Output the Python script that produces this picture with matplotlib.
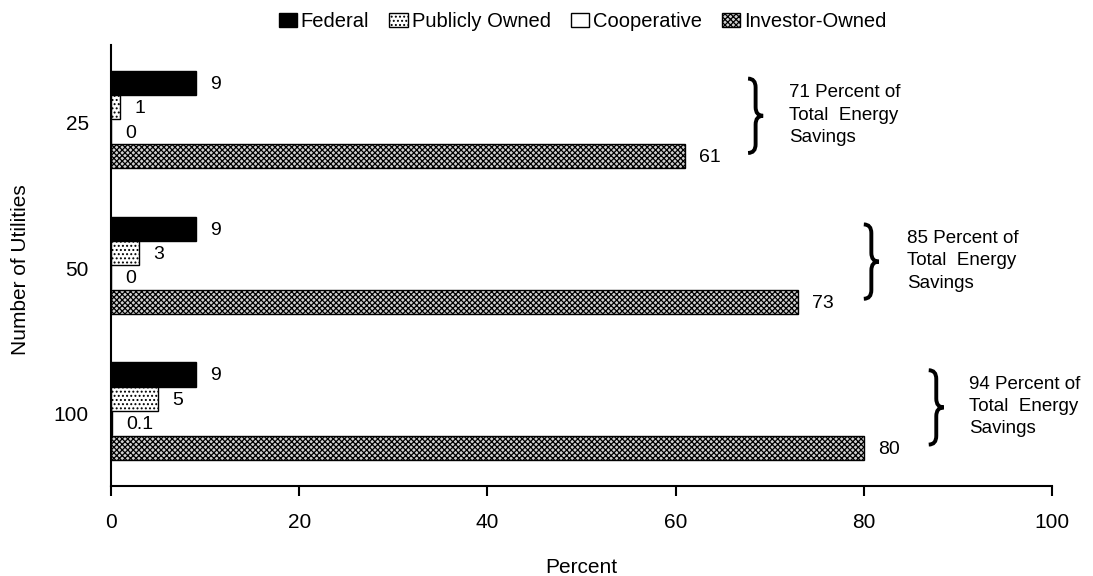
import numpy as np
import matplotlib
matplotlib.use("Agg")
import matplotlib.pyplot as plt
from matplotlib.path import Path
from matplotlib.patches import PathPatch

plt.rcParams['font.family'] = ['Liberation Sans', 'DejaVu Sans']
plt.rcParams['hatch.linewidth'] = 0.9

# donnees
groupes = ["25", "50", "100"]
series = ["Federal", "Publicly Owned", "Cooperative", "Investor-Owned"]
federal = [9, 9, 9]
public = [1, 3, 5]
coop = [0, 0, 0.1]
investor = [61, 73, 80]
etiquettes = [["9", "1", "0", "61"], ["9", "3", "0", "73"], ["9", "5", "0.1", "80"]]
totaux = [71, 85, 94]

# mise en page des accolades (x en %)
x_accolade = [67.7, 80.0, 86.9]
x_texte = [72.1, 84.6, 91.2]

valeurs = [federal, public, coop, investor]
couleurs = ["black", "white", "white", "#d0d0d0"]
hachures = [None, "....", None, "xxxxxx"]

fig = plt.figure(figsize=(10.93, 5.76), dpi=100)
ax = fig.add_axes([0.1016, 0.156, 0.8609, 0.766])

y = np.arange(len(groupes))
h = 0.165
for k in range(4):
    pos = y + (k - 1.5) * 0.167
    ax.barh(pos, valeurs[k], height=h, color=couleurs[k], edgecolor="black",
            hatch=hachures[k], linewidth=1.0, label=series[k])
    for g in range(len(groupes)):
        ax.text(valeurs[k][g] + 1.5, pos[g] + 0.01, etiquettes[g][k],
                ha="left", va="center", fontsize=14)


def accolade(ax, x, y0, y1, w):
    # accolade "}" dessinee avec des courbes
    ym = (y0 + y1) / 2
    d = 0.06
    xm = x + w / 2
    verts = [(x, y0), (xm, y0), (xm, y0 + d), (xm, ym - d), (xm, ym), (x + w, ym),
             (xm, ym), (xm, ym + d), (xm, y1 - d), (xm, y1), (x, y1)]
    codes = [Path.MOVETO, Path.CURVE3, Path.CURVE3, Path.LINETO, Path.CURVE3, Path.CURVE3,
             Path.CURVE3, Path.CURVE3, Path.LINETO, Path.CURVE3, Path.CURVE3]
    ax.add_patch(PathPatch(Path(verts, codes), fill=False, lw=2.8, color="black",
                           clip_on=False))


for g in range(len(groupes)):
    accolade(ax, x_accolade[g], y[g] - 0.28, y[g] + 0.23, 1.6)
    ax.text(x_texte[g], y[g] - 0.03,
            str(totaux[g]) + " Percent of\nTotal  Energy\nSavings",
            ha="left", va="center", fontsize=13.5, linespacing=1.4)

ax.set_xlim(0, 100)
ax.set_ylim(2.515, -0.511)
ax.set_xticks([0, 20, 40, 60, 80, 100])
ax.set_yticks(y + 0.02)
ax.set_yticklabels(groupes)
ax.tick_params(axis="x", length=7, width=1.5, pad=12, labelsize=15)
ax.tick_params(axis="y", length=0, pad=16, labelsize=15)
ax.spines["top"].set_visible(False)
ax.spines["right"].set_visible(False)
ax.spines["left"].set_linewidth(1.5)
ax.spines["bottom"].set_linewidth(1.5)

ax.set_xlabel("Percent", fontsize=15)
ax.xaxis.set_label_coords(0.5, -0.162)
ax.set_ylabel("Number of Utilities", fontsize=15)
ax.yaxis.set_label_coords(-0.086, 0.49)

fig.legend(loc="center", bbox_to_anchor=(0.533, 0.962), ncol=4, frameon=False,
           fontsize=14.5, handlelength=0.9, handleheight=0.7, handletextpad=0.2,
           columnspacing=1.0)

fig.savefig("out.png", dpi=100)
